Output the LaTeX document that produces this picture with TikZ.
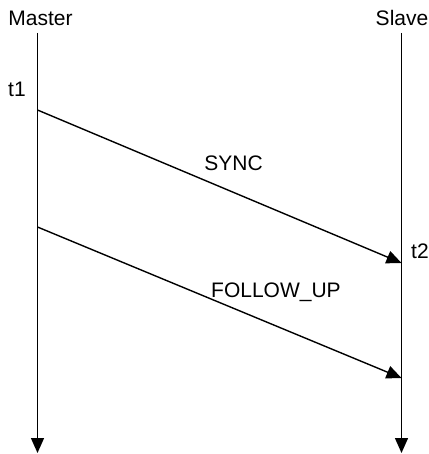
\documentclass[tikz,border=0pt]{standalone}
\usepackage{fontspec}
\setmainfont{Liberation Sans}
\usetikzlibrary{arrows.meta}
\begin{document}
\begin{tikzpicture}[x=1pt,y=-1pt,
  lbl/.style={inner sep=0pt,font=\fontsize{21}{24}\selectfont},
  life/.style={line width=1.4pt,-{Triangle[length=15pt,width=13pt]}},
  msg/.style={line width=1.4pt,-{Triangle[length=15pt,width=13pt]}}]
\useasboundingbox (0,0) rectangle (428,454);
\node[lbl,anchor=base] (master) at (40.5,26) {Master};
\node[lbl,anchor=base] (slave) at (402,26) {Slave};
\coordinate (mtop) at (37.5,33);
\coordinate (mbot) at (37.5,453);
\coordinate (stop) at (401.5,33);
\coordinate (sbot) at (401.5,453);
\draw[life] (mtop) -- (mbot);
\draw[life] (stop) -- (sbot);
\coordinate (s1) at (37.5,110);
\coordinate (s2) at (401.5,263);
\coordinate (f1) at (37.5,227);
\coordinate (f2) at (401.5,378);
\draw[msg] (s1) -- (s2);
\draw[msg] (f1) -- (f2);
\node[lbl,anchor=base west] (t1) at (8,97) {t1};
\node[lbl,anchor=base west] (t2) at (411,258) {t2};
\node[lbl,anchor=base] (sync) at (233.5,171) {SYNC};
\node[lbl,anchor=base west] (fu) at (211,297) {FOLLOW\_UP};
\end{tikzpicture}
\end{document}
